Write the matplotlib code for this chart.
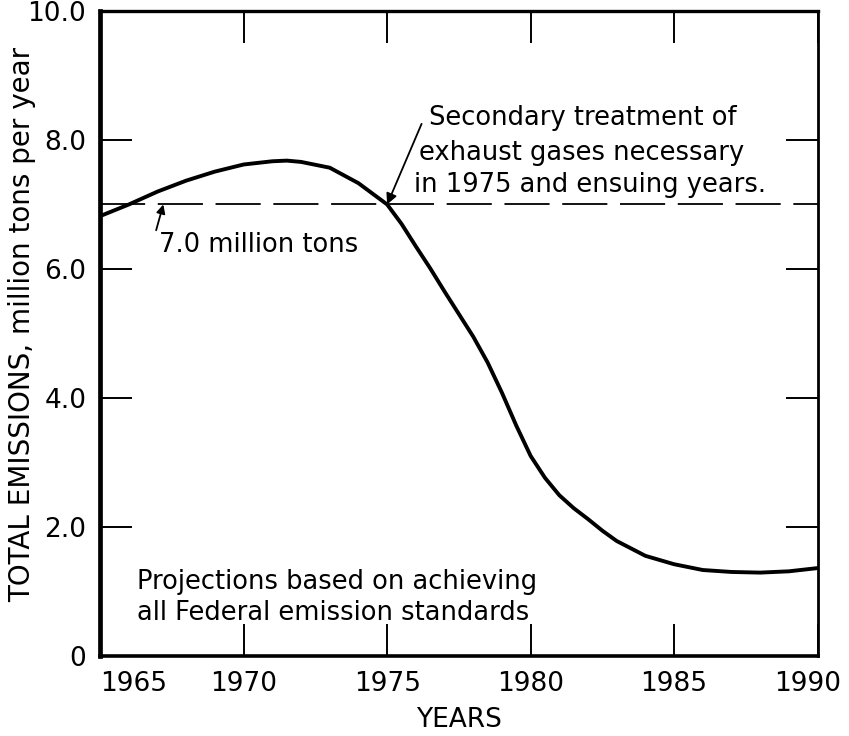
import matplotlib
matplotlib.use("Agg")
import matplotlib.pyplot as plt
import matplotlib.transforms as mtransforms

years = [1965, 1966, 1967, 1968, 1969, 1970, 1971, 1971.5, 1972, 1973, 1974, 1975,
         1975.5, 1976, 1976.5, 1977, 1977.5, 1978, 1978.5, 1979, 1979.5, 1980,
         1980.5, 1981, 1981.5, 1982, 1982.5, 1983, 1984, 1985, 1986, 1987, 1988,
         1989, 1990]
emissions = [6.82, 7.0, 7.2, 7.37, 7.51, 7.62, 7.67, 7.68, 7.66, 7.57, 7.33, 7.0,
             6.7, 6.35, 6.01, 5.65, 5.3, 4.95, 4.55, 4.08, 3.57, 3.1,
             2.76, 2.49, 2.29, 2.12, 1.94, 1.78, 1.55, 1.42, 1.33, 1.30, 1.29,
             1.31, 1.36]
threshold = 7.0
x_ticks = [1965, 1970, 1975, 1980, 1985, 1990]
y_ticks = [0, 2, 4, 6, 8, 10]
y_tick_labels = ["0", "2.0", "4.0", "6.0", "8.0", "10.0"]

plt.rcParams['font.family'] = ['DejaVu Sans']

fig = plt.figure(figsize=(8.49, 7.36), dpi=100)
ax = fig.add_axes([0.118, 0.109, 0.845, 0.876])

ax.plot(years, emissions, color='black', lw=2.8, solid_capstyle='round',
        solid_joinstyle='round')
ax.axhline(threshold, color='black', lw=1.3, dashes=(25, 7))

ax.set_xlim(1965, 1990)
ax.set_ylim(0, 10)
ax.set_xticks(x_ticks)
ax.set_yticks(y_ticks)
ax.set_yticklabels(y_tick_labels)
ax.tick_params(direction='in', length=23, width=1.4, top=True, right=True,
               labelsize=19, pad=10, color='black')
ax.tick_params(axis='x', pad=11)
xlabels = ax.get_xticklabels()
xlabels[0].set_horizontalalignment('left')
xlabels[-1].set_transform(xlabels[-1].get_transform() +
                          mtransforms.ScaledTranslation(-10 / 100, 0, fig.dpi_scale_trans))

for side, lw in [('left', 3.4), ('bottom', 2.6), ('top', 2.4), ('right', 2.0)]:
    ax.spines[side].set_linewidth(lw)

ax.set_xlabel("YEARS", fontsize=19, labelpad=7)
fig.text(22 / 849, 1 - 324 / 736, "TOTAL EMISSIONS, million tons per year",
         fontsize=20, rotation=90, ha='center', va='center')

fs = 18.5
ax.text(1976.47, 8.34, "Secondary treatment of", fontsize=fs, va='center', ha='left')
ax.text(1976.12, 7.80, "exhaust gases necessary", fontsize=fs, va='center', ha='left')
ax.text(1975.94, 7.30, "in 1975 and ensuing years.", fontsize=fs, va='center', ha='left')
ax.annotate("", xy=(1975.0, 7.0), xytext=(1976.2, 8.25),
            arrowprops=dict(arrowstyle='-|>', color='black', lw=1.3,
                            mutation_scale=16, shrinkA=0, shrinkB=0))

ax.text(1967.05, 6.37, "7.0 million tons", fontsize=fs, va='center', ha='left')
ax.annotate("", xy=(1967.2, 7.0), xytext=(1966.95, 6.6),
            arrowprops=dict(arrowstyle='-|>', color='black', lw=1.3,
                            mutation_scale=13, shrinkA=0, shrinkB=0))

ax.text(1966.3, 1.15, "Projections based on achieving", fontsize=fs, va='center', ha='left')
ax.text(1966.3, 0.67, "all Federal emission standards", fontsize=fs, va='center', ha='left')

fig.savefig("out.png", dpi=100)
